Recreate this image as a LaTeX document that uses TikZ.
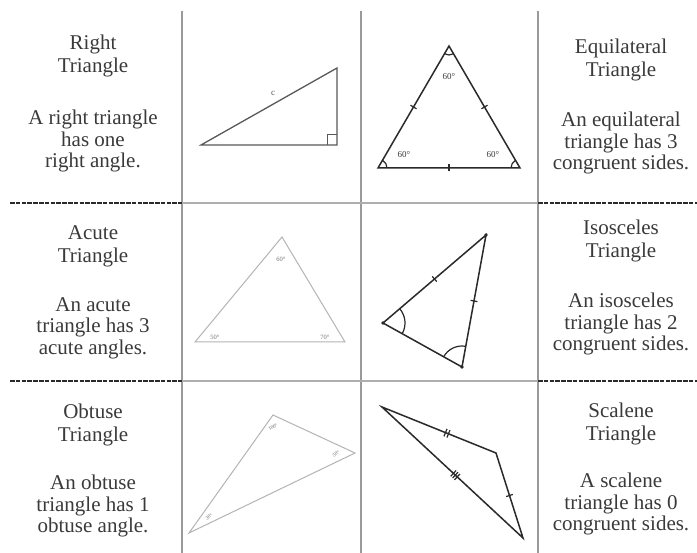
\documentclass[tikz,border=0pt]{standalone}
\usepackage{fontspec}
\setmainfont{Liberation Serif}
\usetikzlibrary{decorations.markings,angles}
\definecolor{txt}{HTML}{3A3A3A}
\definecolor{dark}{HTML}{2A2A2A}
\definecolor{gridc}{HTML}{9A9A9A}
\definecolor{lightc}{HTML}{B4B4B4}
\tikzset{
  hdr/.style={font=\fontsize{21}{23}\selectfont, text=txt, align=center, inner sep=0pt},
  body/.style={font=\fontsize{21}{21.5}\selectfont, text=txt, align=center, inner sep=0pt},
  gridline/.style={draw=gridc, line width=1.4pt},
  cutline/.style={draw=dark, line width=1.5pt, dash pattern=on 4.5pt off 1.3pt},
  darktri/.style={draw=dark, line width=1.5pt, line join=miter},
  righttri/.style={draw=black!65, line width=1.3pt},
  lighttri/.style={draw=lightc, line width=1pt},
  tickmark/.style={draw=dark, line width=1.2pt},
  tickone/.style={postaction={decorate,decoration={markings,mark=at position #1 with {\draw[tickmark] (0pt,-3.5pt) -- (0pt,3.5pt);}}}},
  ticktwo/.style={postaction={decorate,decoration={markings,mark=at position #1 with {\draw[tickmark] (-1.6pt,-4pt) -- (-1.6pt,4pt) (1.6pt,-4pt) -- (1.6pt,4pt);}}}},
  tickthree/.style={postaction={decorate,decoration={markings,mark=at position #1 with {\draw[tickmark] (-2.6pt,-4pt) -- (-2.6pt,4pt) (0pt,-4pt) -- (0pt,4pt) (2.6pt,-4pt) -- (2.6pt,4pt);}}}},
  degtxt/.style={font=\fontsize{9}{9}\selectfont, text=txt, inner sep=0pt},
  lightdeg/.style={font=\fontsize{6.5}{6.5}\selectfont, text=black!55, inner sep=0pt},
  tinydeg/.style={font=\fontsize{5}{5}\selectfont, text=black!60, inner sep=0pt},
  vdot/.style={fill=dark, circle, inner sep=0pt, minimum size=3.6pt},
}
\begin{document}
\begin{tikzpicture}[x=1pt,y=-1pt]
\useasboundingbox[fill=white] (0,0) rectangle (697,553);

% grid
\coordinate (v1t) at (182,11); \coordinate (v1b) at (182,553);
\coordinate (v2t) at (361,11); \coordinate (v2b) at (361,553);
\coordinate (v3t) at (538,11); \coordinate (v3b) at (538,553);
\draw[gridline] (v1t) -- (v1b);
\draw[gridline] (v2t) -- (v2b);
\draw[gridline] (v3t) -- (v3b);
\coordinate (h1a) at (10,203); \coordinate (h1b) at (182,203);
\coordinate (h1c) at (538,203); \coordinate (h1d) at (697,203);
\coordinate (h2a) at (10,381); \coordinate (h2b) at (182,381);
\coordinate (h2c) at (538,381); \coordinate (h2d) at (697,381);
\draw[gridline, draw=gridc!80] (h1b) -- (h1c);
\draw[gridline, draw=gridc!80] (h2b) -- (h2c);
\draw[cutline] (h1a) -- (h1b);
\draw[cutline] (h1c) -- (h1d);
\draw[cutline] (h2a) -- (h2b);
\draw[cutline] (h2c) -- (h2d);

% texts
\node[hdr] (t1) at (93,56) {Right\\Triangle};
\node[body] (b1) at (93,141) {A right triangle\\has one\\right angle.};
\node[hdr] (t2) at (621,60) {Equilateral\\Triangle};
\node[body] (b2) at (621,143) {An equilateral\\triangle has 3\\congruent sides.};
\node[hdr] (t3) at (93,246) {Acute\\Triangle};
\node[body] (b3) at (93,328) {An acute\\triangle has 3\\acute angles.};
\node[hdr] (t4) at (621,241) {Isosceles\\Triangle};
\node[body] (b4) at (621,324) {An isosceles\\triangle has 2\\congruent sides.};
\node[hdr] (t5) at (93,425) {Obtuse\\Triangle};
\node[body] (b5) at (93,506) {An obtuse\\triangle has 1\\obtuse angle.};
\node[hdr] (t6) at (621,424) {Scalene\\Triangle};
\node[body] (b6) at (621,504) {A scalene\\triangle has 0\\congruent sides.};

% right triangle
\coordinate (rA) at (201,145); \coordinate (rB) at (337,145); \coordinate (rC) at (337,68);
\draw[righttri] (rA) -- (rB) -- (rC) -- cycle;
\coordinate (rs1) at (327,145); \coordinate (rs2) at (327,135); \coordinate (rs3) at (337,135);
\draw[righttri, line width=1pt] (rs1) -- (rs2) -- (rs3);
\node[degtxt, text=black!65] (rc) at (273,93) {c};

% equilateral triangle
\coordinate (eA) at (449,46); \coordinate (eL) at (378,168); \coordinate (eR) at (520,168);
\draw[darktri] (eA) -- (eL) -- (eR) -- cycle;
\path[tickone=0.5] (eA) -- (eL);
\path[tickone=0.5] (eA) -- (eR);
\path[tickone=0.5] (eL) -- (eR);
\pic[draw=dark, line width=1.2pt, angle radius=9pt] {angle = eL--eA--eR};
\pic[draw=dark, line width=1.2pt, angle radius=9pt] {angle = eR--eL--eA};
\pic[draw=dark, line width=1.2pt, angle radius=9pt] {angle = eA--eR--eL};
\node[degtxt] (e1) at (449,77) {60°};
\node[degtxt] (e2) at (404,155) {60°};
\node[degtxt] (e3) at (493,155) {60°};

% acute triangle
\coordinate (aA) at (282,237); \coordinate (aL) at (195,342); \coordinate (aR) at (345,342);
\draw[lighttri] (aA) -- (aL) -- (aR) -- cycle;
\node[lightdeg] (a1) at (281,259) {60°};
\node[lightdeg] (a2) at (215,337) {50°};
\node[lightdeg] (a3) at (325,337) {70°};

% isosceles triangle
\coordinate (iT) at (486,235); \coordinate (iL) at (383,323); \coordinate (iB) at (462,367);
\draw[darktri] (iT) -- (iL) -- (iB) -- cycle;
\path[tickone=0.5] (iL) -- (iT);
\path[tickone=0.5] (iT) -- (iB);
\pic[draw=dark, line width=1.2pt, angle radius=22pt] {angle = iB--iL--iT};
\pic[draw=dark, line width=1.2pt, angle radius=21pt] {angle = iT--iB--iL};
\node[vdot] (d1) at (iT) {};
\node[vdot] (d2) at (iL) {};
\node[vdot] (d3) at (iB) {};

% obtuse triangle
\coordinate (oT) at (273,415); \coordinate (oR) at (355,453); \coordinate (oL) at (189,533);
\draw[lighttri] (oT) -- (oR) -- (oL) -- cycle;
\node[tinydeg, rotate=30] (o1) at (273,427) {100°};
\node[tinydeg, rotate=30] (o2) at (336,454) {50°};
\node[tinydeg, rotate=30] (o3) at (209,517) {30°};

% scalene triangle
\coordinate (sA) at (382,407); \coordinate (sB) at (496,453); \coordinate (sC) at (523,538);
\draw[darktri] (sA) -- (sB) -- (sC) -- cycle;
\path[ticktwo=0.57] (sA) -- (sB);
\path[tickthree=0.52] (sA) -- (sC);
\path[tickone=0.5] (sB) -- (sC);
\end{tikzpicture}
\end{document}
